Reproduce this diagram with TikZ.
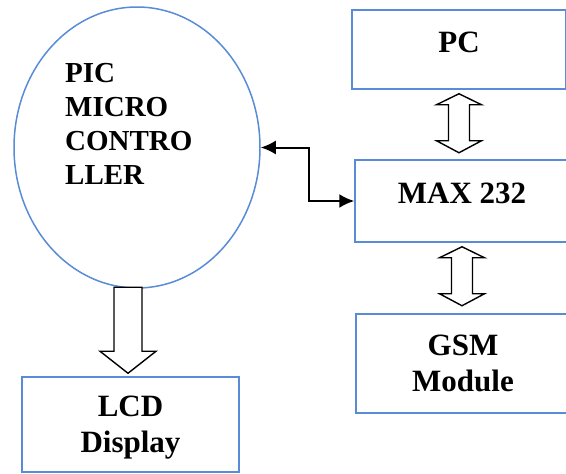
\documentclass[tikz,border=0pt]{standalone}
\usepackage{fontspec}
\usepackage{xcolor}
\usetikzlibrary{shapes.geometric,arrows.meta}
\setmainfont{Liberation Serif}
\definecolor{boxblue}{RGB}{88,140,214}

\begin{document}
\begin{tikzpicture}[x=1pt,y=-1pt,
    box/.style={draw=boxblue, line width=1.5pt, rectangle, minimum width=214pt, align=center,
      font=\fontsize{31}{36}\selectfont\bfseries},
    lbl/.style={font=\fontsize{31}{36}\selectfont\bfseries, align=center, inner sep=0pt},
    hollow/.style={draw=black, line width=1.4pt, fill=white, line join=miter},
    link/.style={line width=2pt, {Latex[length=15pt,width=14pt]}-{Latex[length=15pt,width=14pt]}}]
  \useasboundingbox (0,0) rectangle (566,474);
  \clip (0,0) rectangle (566,474);
  % micro controller
  \node[draw=boxblue, line width=1.5pt, ellipse, minimum width=246pt, minimum height=281pt] (mcu) at (137,147.5) {};
  \node[lbl, align=left, anchor=north west, font=\fontsize{29}{34}\selectfont\bfseries] (mcutxt) at (65,63) {PIC\\MICRO\\CONTRO\\LLER};
  % right column
  \node[box, minimum height=79pt] (pc) at (459,49.5) {};
  \node[lbl] (pctxt) at (459,42) {PC};
  \node[box, minimum height=82pt] (max) at (462,201) {};
  \node[lbl] (maxtxt) at (462,193) {MAX 232};
  \node[box, minimum height=99pt] (gsm) at (463,363.5) {GSM\\Module};
  % lcd
  \node[box, minimum width=217pt, minimum height=95pt, text depth=0pt] (lcd) at (130.5,424.5) {LCD\\Display};
  % connectors
  \draw[link] (mcu.east) -- ++(48,0) |- (max.west);
  \foreach \a in {pc,max}
    \draw[hollow, shift={(\a.south)}] (0,4) -- (22.5,15) -- (10.5,15) -- (10.5,51) -- (22.5,51) -- (0,63)
      -- (-22.5,51) -- (-10.5,51) -- (-10.5,15) -- (-22.5,15) -- cycle;
  \draw[hollow, shift={([xshift=-2.5pt]lcd.north)}] (-14,-89) -- (14,-89) -- (14,-25) -- (28,-25) -- (0,-3)
    -- (-28,-25) -- (-14,-25) -- cycle;
\end{tikzpicture}
\end{document}
